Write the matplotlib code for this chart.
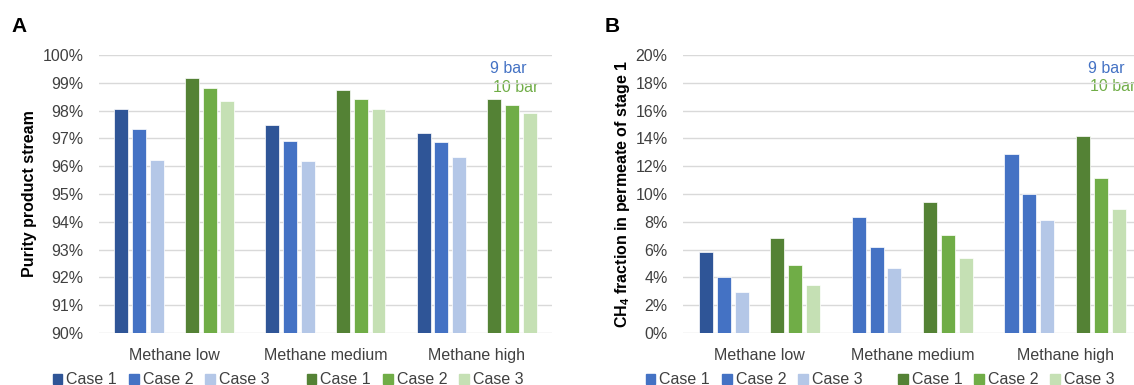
import numpy as np
import matplotlib
matplotlib.use("Agg")
import matplotlib.pyplot as plt
from matplotlib.patches import Rectangle
from matplotlib.ticker import FuncFormatter

plt.rcParams["font.family"] = ["Liberation Sans", "DejaVu Sans"]
plt.rcParams["mathtext.fontset"] = "custom"
plt.rcParams["mathtext.rm"] = "Liberation Sans"
plt.rcParams["mathtext.bf"] = "Liberation Sans:bold"

categories = ["Methane low", "Methane medium", "Methane high"]
case_labels = ["Case 1", "Case 2", "Case 3"]

# panel A: purity of product stream (%)
purity_9bar = [
    [98.07, 97.49, 97.21],  # case 1
    [97.34, 96.92, 96.86],  # case 2
    [96.22, 96.20, 96.34],  # case 3
]
purity_10bar = [
    [99.16, 98.73, 98.41],
    [98.81, 98.41, 98.20],
    [98.36, 98.05, 97.90],
]

# panel B: CH4 fraction in permeate of stage 1 (%)
ch4_9bar = [
    [5.81, 8.33, 12.90],
    [4.00, 6.17, 10.03],
    [2.94, 4.69, 8.11],
]
ch4_10bar = [
    [6.82, 9.45, 14.15],
    [4.86, 7.06, 11.12],
    [3.49, 5.43, 8.92],
]

BLUES = ["#2F5597", "#4472C4", "#B4C7E7"]
GREENS = ["#548235", "#70AD47", "#C5E0B4"]
GRID = "#D9D9D9"
TXT = "#404040"

STEP = 0.117
WIDTH = 0.092


def draw_panel(ax, s9, s10, ylim, ystep, blues_b=None):
    x = np.arange(len(categories))
    for i in range(3):
        cols = blues_b[i] if blues_b is not None else BLUES[i]
        ax.bar(x + (i - 3) * STEP, s9[i], WIDTH, color=cols, edgecolor="white",
               linewidth=0.5, zorder=3)
        ax.bar(x + (i + 1) * STEP, s10[i], WIDTH, color=GREENS[i], edgecolor="white",
               linewidth=0.5, zorder=3)
    ax.set_xlim(-0.5, 2.5)
    ax.set_ylim(*ylim)
    ax.set_yticks(np.arange(ylim[0], ylim[1] + 0.01, ystep))
    ax.yaxis.set_major_formatter(FuncFormatter(lambda v, _: f"{v:.0f}%"))
    ax.set_xticks(x)
    ax.set_xticklabels(categories)
    ax.grid(axis="y", color=GRID, lw=1.0, zorder=0)
    for s in ax.spines.values():
        s.set_visible(False)
    ax.tick_params(axis="both", length=0, labelsize=11.5, labelcolor=TXT)
    ax.tick_params(axis="x", pad=11)
    ax.tick_params(axis="y", pad=11)


def add_legends(ax, blue_cols, x_blue, x_green, y):
    kw = dict(loc="center left", frameon=False, ncol=3, fontsize=11.5,
              handlelength=0.6, handleheight=0.6, handletextpad=0.25,
              columnspacing=0.75, borderaxespad=0, labelcolor=TXT)
    hb = [Rectangle((0, 0), 1, 1, color=c) for c in blue_cols]
    hg = [Rectangle((0, 0), 1, 1, color=c) for c in GREENS]
    lb = ax.legend(hb, case_labels, bbox_to_anchor=(x_blue, y), **kw)
    ax.add_artist(lb)
    ax.legend(hg, case_labels, bbox_to_anchor=(x_green, y), **kw)


fig = plt.figure(figsize=(11.34, 3.85), dpi=100, facecolor="white")
axA = fig.add_axes([0.0870, 0.135, 0.400, 0.722])
axB = fig.add_axes([0.6023, 0.135, 0.4044, 0.722])

draw_panel(axA, purity_9bar, purity_10bar, (90, 100), 1)
axA.set_ylabel("Purity product stream", fontsize=11.5, fontweight="bold")
axA.yaxis.set_label_coords(-0.136, 0.5)
axA.text(2.09, 99.5, "9 bar", color=BLUES[1], fontsize=11.5, va="center")
axA.text(2.11, 98.85, "10 bar", color=GREENS[1], fontsize=11.5, va="center", zorder=1)
add_legends(axA, BLUES, -0.115, 0.445, -0.168)

# in panel B the 9 bar case 1 bars use the case 2 blue except the first one
b_cols = [[BLUES[0], BLUES[1], BLUES[1]], BLUES[1], BLUES[2]]
draw_panel(axB, ch4_9bar, ch4_10bar, (0, 20), 2, blues_b=b_cols)
axB.set_ylabel(r"CH$_\mathbf{4}$ fraction in permeate of stage 1", fontsize=11.5,
               fontweight="bold")
axB.yaxis.set_label_coords(-0.111, 0.5)
axB.text(2.15, 19.05, "9 bar", color=BLUES[1], fontsize=11.5, va="center")
axB.text(2.16, 17.75, "10 bar", color=GREENS[1], fontsize=11.5, va="center", zorder=1)
add_legends(axB, [BLUES[1], BLUES[1], BLUES[2]], -0.095, 0.455, -0.168)

fig.text(0.0105, 0.93, "A", fontsize=15, fontweight="bold", va="center")
fig.text(0.533, 0.93, "B", fontsize=15, fontweight="bold", va="center")

fig.savefig("out.png", dpi=100, facecolor="white")
